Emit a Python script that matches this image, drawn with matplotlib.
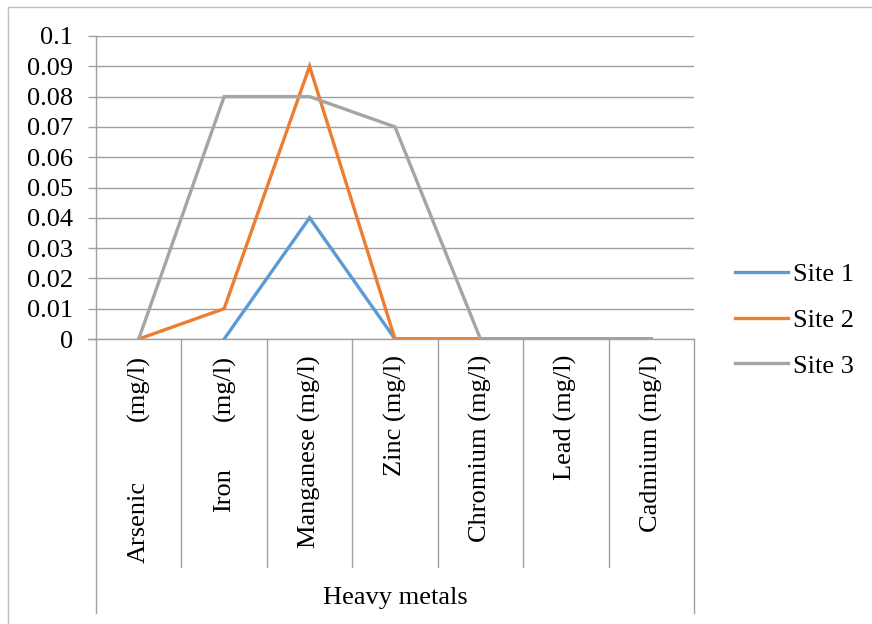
import numpy as np
import matplotlib
matplotlib.use("Agg")
import matplotlib.pyplot as plt
import matplotlib.transforms as mtransforms
from matplotlib.lines import Line2D
from matplotlib.patches import Rectangle

# data
metals = ["Arsenic", "Iron", "Manganese", "Zinc", "Chromium", "Lead", "Cadmium"]
unit = "(mg/l)"
site1 = [np.nan, 0.0, 0.04, 0.0, 0.0, 0.0, 0.0]
site2 = [0.0, 0.01, 0.09, 0.0, 0.0, 0.0, 0.0]
site3 = [0.0, 0.08, 0.08, 0.07, 0.0, 0.0, 0.0]
series_names = ["Site 1", "Site 2", "Site 3"]
yticks = [0, 0.01, 0.02, 0.03, 0.04, 0.05, 0.06, 0.07, 0.08, 0.09, 0.1]
ytick_labels = ["0", "0.01", "0.02", "0.03", "0.04", "0.05", "0.06", "0.07", "0.08", "0.09", "0.1"]

colors = ["#5B9BD5", "#ED7D31", "#A5A5A5"]
grid_c = "#A0A0A0"

plt.rcParams['font.family'] = ['Liberation Serif', 'DejaVu Serif']
plt.rcParams['font.size'] = 19

W, H = 872, 624
fig = plt.figure(figsize=(W / 100, H / 100), dpi=100)

def fx(px):
    return px / W

def fy(py):
    return 1 - py / H

# outer chart frame (runs off the right/bottom edge)
fig.patches.append(Rectangle((fx(8), fy(640)), fx(900) - fx(8), fy(7) - fy(640),
                             transform=fig.transFigure, fill=False,
                             edgecolor="#BFBFBF", linewidth=1.0))

ax = fig.add_axes([fx(96), fy(339), fx(694) - fx(96), fy(36) - fy(339)])

x = np.arange(len(metals))
for vals, name, c in zip([site1, site2, site3], series_names, colors):
    ax.plot(x, vals, color=c, linewidth=2.4, label=name, solid_joinstyle="miter")

ax.set_xlim(-0.5, len(metals) - 0.5)
ax.set_ylim(0, 0.1)
ax.set_yticks(yticks)
ax.set_yticklabels(ytick_labels)
ax.set_xticks([])
ax.grid(axis="y", color=grid_c, linewidth=1.0)
ax.set_axisbelow(True)
ax.tick_params(axis="y", direction="out", length=5.8, width=1.0, color=grid_c, pad=11)
for s in ["top", "right"]:
    ax.spines[s].set_visible(False)
ax.spines["left"].set_color(grid_c)
ax.spines["bottom"].set_color(grid_c)
ax.spines["left"].set_linewidth(1.0)
ax.spines["bottom"].set_linewidth(1.0)

# multi-level category axis
trans = mtransforms.blended_transform_factory(ax.transData, fig.transFigure)
edges = np.arange(len(metals) + 1) - 0.5
for i, e in enumerate(edges):
    bottom = 613 if i in (0, len(edges) - 1) else 567
    fig.lines.append(Line2D([e, e], [fy(339), fy(bottom)], transform=trans,
                            color=grid_c, linewidth=1.0))
# tick mark at 0 reaching out left
fig.lines.append(Line2D([fx(88), fx(96)], [fy(339), fy(339)], transform=fig.transFigure,
                        color=grid_c, linewidth=1.0))

split_bottom = {"Arsenic": 563, "Iron": 512}
for xi, m in zip(x, metals):
    if m in split_bottom:
        fig.text(xi, fy(355), unit, transform=trans, rotation=90, ha="center", va="top")
        fig.text(xi, fy(split_bottom[m]), m, transform=trans, rotation=90,
                 ha="center", va="bottom")
    else:
        fig.text(xi, fy(355), f"{m} {unit}", transform=trans, rotation=90,
                 ha="center", va="top")

fig.text(3, fy(598), "Heavy metals", transform=trans, ha="center", va="center")

ax.legend(loc="center left", bbox_to_anchor=(fx(722), fy(320)),
          bbox_transform=fig.transFigure, frameon=False,
          handlelength=2.0, handletextpad=0.2, labelspacing=0.85, borderpad=0)

fig.savefig("out.png", dpi=100)
